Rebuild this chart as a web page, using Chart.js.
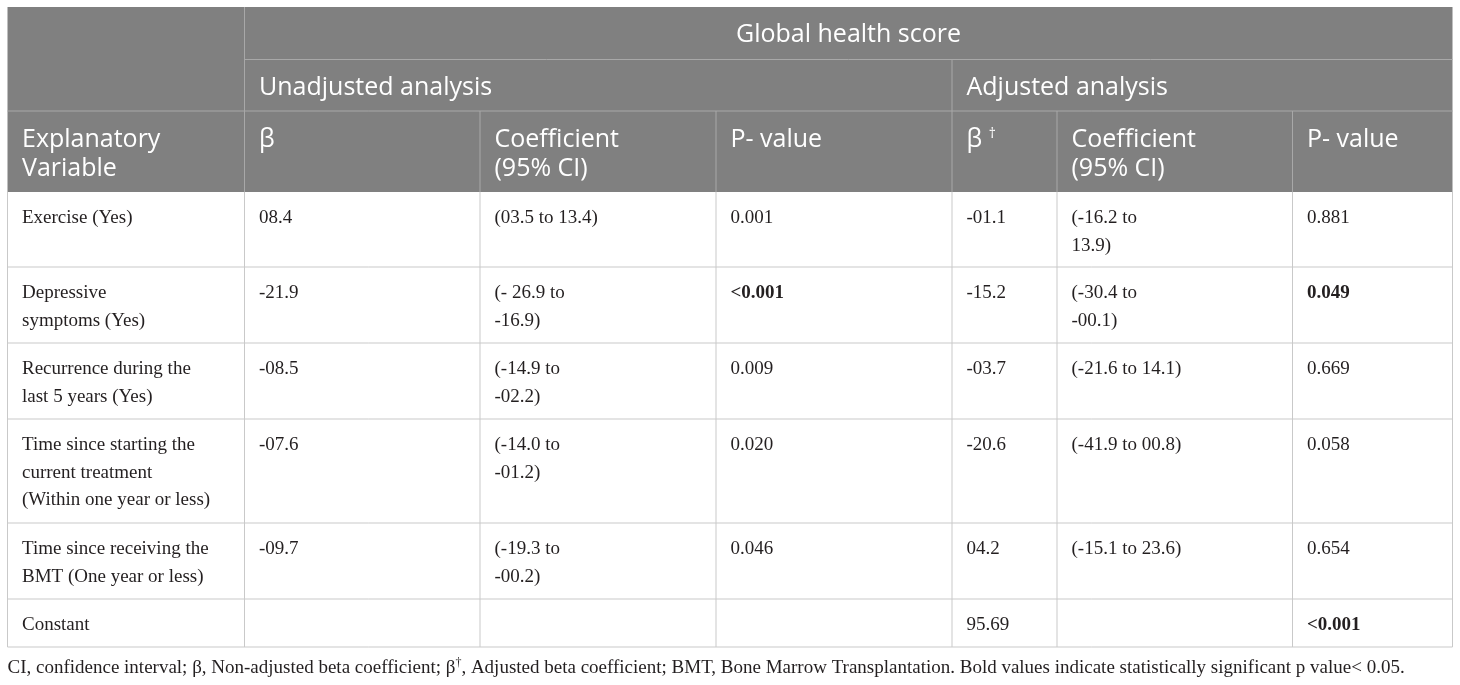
<!DOCTYPE html>
<html>
<head>
<meta charset="utf-8">
<title>Global health score</title>
<script src="https://cdn.jsdelivr.net/npm/chart.js@4"></script>
<style>
  html, body { margin: 0; padding: 0; background: #ffffff; }
  #wrap { width: 1460px; height: 685px; position: relative; }
</style>
</head>
<body>
<div id="wrap"><canvas id="tableChart"></canvas></div>
<script>
// table content
const headerTitle = "Global health score";
const analysisGroups = ["Unadjusted analysis", "Adjusted analysis"];
const columnLabels = ["Explanatory\nVariable", "β", "Coefficient\n(95% CI)", "P- value", "β", "Coefficient\n(95% CI)", "P- value"];
const columnLabelSup = ["", "", "", "", "†", "", ""];

const variables = [
  "Exercise (Yes)",
  "Depressive\nsymptoms (Yes)",
  "Recurrence during the\nlast 5 years (Yes)",
  "Time since starting the\ncurrent treatment\n(Within one year or less)",
  "Time since receiving the\nBMT (One year or less)",
  "Constant",
];
const betaUnadjusted = ["08.4", "-21.9", "-08.5", "-07.6", "-09.7", ""];
const ciUnadjusted = ["(03.5 to 13.4)", "(- 26.9 to\n-16.9)", "(-14.9 to\n-02.2)", "(-14.0 to\n-01.2)", "(-19.3 to\n-00.2)", ""];
const pUnadjusted = ["0.001", "<0.001", "0.009", "0.020", "0.046", ""];
const betaAdjusted = ["-01.1", "-15.2", "-03.7", "-20.6", "04.2", "95.69"];
const ciAdjusted = ["(-16.2 to\n13.9)", "(-30.4 to\n-00.1)", "(-21.6 to 14.1)", "(-41.9 to 00.8)", "(-15.1 to 23.6)", ""];
const pAdjusted = ["0.881", "0.049", "0.669", "0.058", "0.654", "<0.001"];
// which p values are printed bold
const boldUnadjusted = [false, true, false, false, false, false];
const boldAdjusted = [false, true, false, false, false, true];

const footnoteParts = [
  ["CI, confidence interval; β, Non-adjusted beta coefficient; β", false],
  ["†", true],
  [", Adjusted beta coefficient; BMT, Bone Marrow Transplantation. Bold values indicate statistically significant p value< 0.05.", false],
];

// layout (in scale units = page pixels)
const colEdges = [7.5, 244.5, 480, 716, 952, 1057, 1292.5, 1452.5];
const headRows = [7, 59.5, 111, 192];
const bodyRows = [192, 267, 343, 419, 523, 599, 647];
const padX = 14.5;

const headBg = "#808080";
const headLine = "#a8a8a8";
const bodyLine = "#c9c9c9";
const textColor = "#231f20";
const headFont = "25px 'Open Sans', sans-serif";
const bodyFont = "19px 'Liberation Serif', 'DejaVu Serif', serif";
const bodyBold = "bold 19px 'Liberation Serif', 'DejaVu Serif', serif";

/**
 * Ritar tabellen via diagrammets skalor
 */
const tablePlugin = {
  id: "tablePlugin",
  afterDatasetsDraw(chart) {
    const ctx = chart.ctx;
    const sx = chart.scales.x;
    const sy = chart.scales.y;
    const px = (v) => sx.getPixelForValue(v);
    const py = (v) => sy.getPixelForValue(v);

    function line(x1, y1, x2, y2, color) {
      ctx.strokeStyle = color;
      ctx.lineWidth = 1;
      ctx.beginPath();
      ctx.moveTo(px(x1), py(y1));
      ctx.lineTo(px(x2), py(y2));
      ctx.stroke();
    }

    function text(str, x, y, font, color, lh, align) {
      ctx.font = font;
      ctx.fillStyle = color;
      ctx.textAlign = align || "left";
      ctx.textBaseline = "alphabetic";
      str.split("\n").forEach((t, i) => ctx.fillText(t, px(x), py(y + i * lh)));
    }

    ctx.save();

    // header background
    ctx.fillStyle = headBg;
    ctx.fillRect(px(colEdges[0]), py(headRows[0]), px(colEdges[7]) - px(colEdges[0]), py(headRows[3]) - py(headRows[0]));

    // header lines
    line(colEdges[1], headRows[1], colEdges[7], headRows[1], headLine);
    line(colEdges[0], headRows[2], colEdges[7], headRows[2], headLine);
    line(colEdges[1], headRows[0], colEdges[1], headRows[3], headLine);
    line(colEdges[4], headRows[1], colEdges[4], headRows[3], headLine);
    [2, 3, 5, 6].forEach((c) => line(colEdges[c], headRows[2], colEdges[c], headRows[3], headLine));

    // header text
    text(headerTitle, (colEdges[1] + colEdges[7]) / 2, headRows[0] + 35, headFont, "#ffffff", 29, "center");
    text(analysisGroups[0], colEdges[1] + padX, headRows[1] + 35, headFont, "#ffffff", 29);
    text(analysisGroups[1], colEdges[4] + padX, headRows[1] + 35, headFont, "#ffffff", 29);
    columnLabels.forEach((lab, c) => {
      const x = colEdges[c] + padX;
      const y = headRows[2] + 36;
      text(lab, x, y, headFont, "#ffffff", 29);
      if (columnLabelSup[c]) {
        ctx.font = headFont;
        const w = ctx.measureText(lab + " ").width;
        text(columnLabelSup[c], sx.getValueForPixel(px(x) + w), y - 9, "14px 'Open Sans', sans-serif", "#ffffff", 0);
      }
    });

    // body grid
    for (let r = 1; r < bodyRows.length; r++) {
      line(colEdges[0], bodyRows[r], colEdges[7], bodyRows[r], bodyLine);
    }
    colEdges.forEach((x) => line(x, bodyRows[0], x, bodyRows[bodyRows.length - 1], bodyLine));

    // body cells
    const columns = [variables, betaUnadjusted, ciUnadjusted, pUnadjusted, betaAdjusted, ciAdjusted, pAdjusted];
    columns.forEach((col, c) => {
      col.forEach((val, r) => {
        if (!val) return;
        let font = bodyFont;
        if (c === 3 && boldUnadjusted[r]) font = bodyBold;
        if (c === 6 && boldAdjusted[r]) font = bodyBold;
        text(val, colEdges[c] + padX, bodyRows[r] + 31, font, textColor, 27.5);
      });
    });

    // footnote
    let fx = px(colEdges[0]);
    const fy = py(673);
    ctx.textAlign = "left";
    ctx.fillStyle = textColor;
    footnoteParts.forEach(([t, sup]) => {
      ctx.font = sup ? "12px 'Liberation Serif', serif" : bodyFont;
      ctx.fillText(t, fx, sup ? fy - 7 : fy);
      fx += ctx.measureText(t).width;
    });

    ctx.restore();
  },
};

const ctx = document.getElementById("tableChart").getContext("2d");
new Chart(ctx, {
  type: "scatter",
  data: { datasets: [{ data: [], pointRadius: 0 }] },
  options: {
    responsive: true,
    maintainAspectRatio: false,
    animation: false,
    layout: { padding: 0 },
    events: [],
    scales: {
      x: { type: "linear", min: 0, max: 1460, display: false },
      y: { type: "linear", min: 0, max: 685, reverse: true, display: false },
    },
    plugins: {
      legend: { display: false },
      tooltip: { enabled: false },
    },
  },
  plugins: [tablePlugin],
});
</script>
</body>
</html>
